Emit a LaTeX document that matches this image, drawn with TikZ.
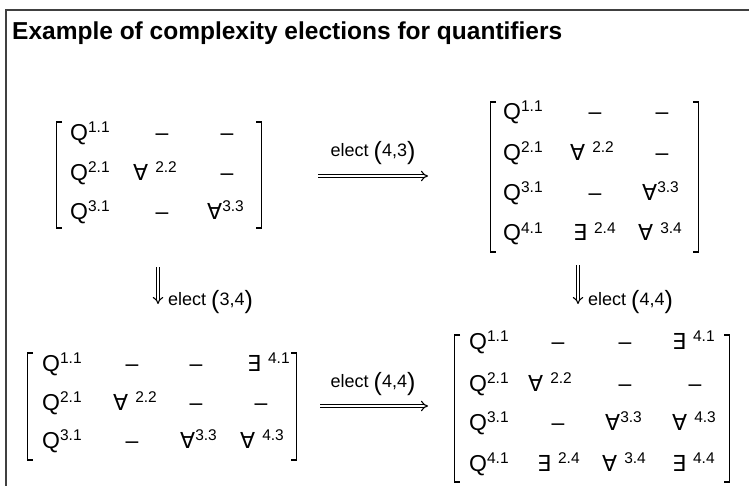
\documentclass[tikz,border=0pt]{standalone}
\usepackage{fontspec}
\setmainfont{Liberation Sans}
\newfontfamily\symf{DejaVu Sans}
\usetikzlibrary{arrows.meta}
\newcommand{\sps}[1]{\raisebox{8pt}{\fontsize{15.5}{15.5}\selectfont #1}}
\newcommand{\FA}{{\symf\fontsize{22}{22}\selectfont ∀}}
\newcommand{\EX}{{\symf\fontsize{22}{22}\selectfont ∃}}
\newcommand{\gp}{\hspace{7pt}}
\newcommand{\bp}[1]{\raisebox{-3pt}{\fontsize{25}{25}\selectfont #1}}
\tikzset{
  ent/.style={anchor=base west, inner sep=0pt, font=\fontsize{23}{23}\selectfont},
  dsh/.style={anchor=base, inner sep=0pt, font=\fontsize{23}{23}\selectfont},
  brk/.style={line width=1.4pt, black},
  lab/.style={inner sep=0pt, font=\fontsize{18}{18}\selectfont},
  dbl/.style={double, double distance=2.4pt, line width=1.1pt, -{Implies}},
  frame/.style={line width=2pt, black!75}
}
\begin{document}
\begin{tikzpicture}[x=1pt,y=-1pt]
\useasboundingbox (0,0) rectangle (749,486);
\fill[white] (0,0) rectangle (749,486);
% frame
\draw[frame] (749,10.5) -- (6,10.5) -- (6,486);
\node[anchor=base west, inner sep=0pt, font=\fontsize{24.5}{24.5}\selectfont\bfseries] (title) at (12,40) {Example of complexity elections for quantifiers};

% ---------- matrix 1 (top left)
\draw[brk] (62,122) -- (56.5,122) -- (56.5,228) -- (62,228);
\draw[brk] (256,122) -- (261.5,122) -- (261.5,228) -- (256,228);
\node[ent] (a11) at (70,141) {Q\sps{1.1}};
\node[dsh] (a12) at (162,141) {–};
\node[dsh] (a13) at (227,141) {–};
\node[ent] (a21) at (70,181) {Q\sps{2.1}};
\node[ent] (a22) at (133,181) {\FA\gp\sps{2.2}};
\node[dsh] (a23) at (227,181) {–};
\node[ent] (a31) at (70,220) {Q\sps{3.1}};
\node[dsh] (a32) at (162,220) {–};
\node[ent] (a33) at (207,220) {\FA\sps{3.3}};

% ---------- matrix 2 (top right)
\draw[brk] (496,102) -- (490.5,102) -- (490.5,252) -- (496,252);
\draw[brk] (693,102) -- (698.5,102) -- (698.5,252) -- (693,252);
\node[ent] (b11) at (503,120) {Q\sps{1.1}};
\node[dsh] (b12) at (595,120) {–};
\node[dsh] (b13) at (662,120) {–};
\node[ent] (b21) at (503,161) {Q\sps{2.1}};
\node[ent] (b22) at (570,161) {\FA\gp\sps{2.2}};
\node[dsh] (b23) at (662,161) {–};
\node[ent] (b31) at (503,201) {Q\sps{3.1}};
\node[dsh] (b32) at (595,201) {–};
\node[ent] (b33) at (642,201) {\FA\sps{3.3}};
\node[ent] (b41) at (503,241) {Q\sps{4.1}};
\node[ent] (b42) at (573,241) {\EX\gp\sps{2.4}};
\node[ent] (b43) at (638,241) {\FA\gp\sps{3.4}};

% ---------- matrix 3 (bottom left)
\draw[brk] (33,353) -- (27.5,353) -- (27.5,460) -- (33,460);
\draw[brk] (291,353) -- (296.5,353) -- (296.5,460) -- (291,460);
\node[ent] (c11) at (42,371) {Q\sps{1.1}};
\node[dsh] (c12) at (132,371) {–};
\node[dsh] (c13) at (196,371) {–};
\node[ent] (c14) at (247,371) {\EX\gp\sps{4.1}};
\node[ent] (c21) at (42,410) {Q\sps{2.1}};
\node[ent] (c22) at (113,410) {\FA\gp\sps{2.2}};
\node[dsh] (c23) at (196,410) {–};
\node[dsh] (c24) at (261,410) {–};
\node[ent] (c31) at (42,448) {Q\sps{3.1}};
\node[dsh] (c32) at (132,448) {–};
\node[ent] (c33) at (180,448) {\FA\sps{3.3}};
\node[ent] (c34) at (240,448) {\FA\gp\sps{4.3}};

% ---------- matrix 4 (bottom right)
\draw[brk] (460,335) -- (454.5,335) -- (454.5,482) -- (460,482);
\draw[brk] (724,335) -- (729.5,335) -- (729.5,482) -- (724,482);
\node[ent] (d11) at (469,349) {Q\sps{1.1}};
\node[dsh] (d12) at (558,349) {–};
\node[dsh] (d13) at (625,349) {–};
\node[ent] (d14) at (672,349) {\EX\gp\sps{4.1}};
\node[ent] (d21) at (469,391) {Q\sps{2.1}};
\node[ent] (d22) at (528,391) {\FA\gp\sps{2.2}};
\node[dsh] (d23) at (625,391) {–};
\node[dsh] (d24) at (695,391) {–};
\node[ent] (d31) at (469,430) {Q\sps{3.1}};
\node[dsh] (d32) at (558,430) {–};
\node[ent] (d33) at (605,430) {\FA\sps{3.3}};
\node[ent] (d34) at (672,430) {\FA\gp\sps{4.3}};
\node[ent] (d41) at (469,471) {Q\sps{4.1}};
\node[ent] (d42) at (537,471) {\EX\gp\sps{2.4}};
\node[ent] (d43) at (602,471) {\FA\gp\sps{3.4}};
\node[ent] (d44) at (672,471) {\EX\gp\sps{4.4}};

% ---------- arrows
\coordinate (t1) at (318,176);
\coordinate (t2) at (428,176);
\draw[dbl] (t1) -- (t2);
\node[lab, anchor=base] (lt) at (373,157) {elect \bp{(}4,3\bp{)}};

\coordinate (l1) at (158,267);
\coordinate (l2) at (158,304);
\draw[dbl] (l1) -- (l2);
\node[lab, anchor=base west] (ll) at (168,305) {elect \bp{(}3,4\bp{)}};

\coordinate (r1) at (578,265);
\coordinate (r2) at (578,304);
\draw[dbl] (r1) -- (r2);
\node[lab, anchor=base west] (lr) at (588,305) {elect \bp{(}4,4\bp{)}};

\coordinate (b1) at (320,406);
\coordinate (b2) at (428,406);
\draw[dbl] (b1) -- (b2);
\node[lab, anchor=base] (lb) at (373,387) {elect \bp{(}4,4\bp{)}};
\end{tikzpicture}
\end{document}
